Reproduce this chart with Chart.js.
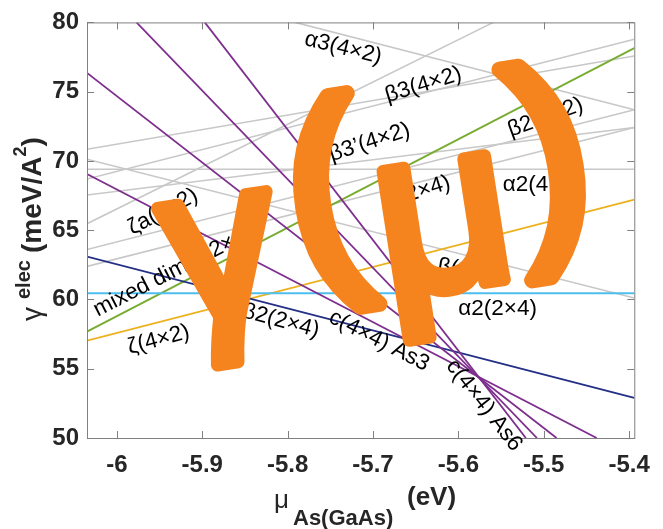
<!DOCTYPE html>
<html>
<head>
<meta charset="utf-8">
<script src="https://cdn.jsdelivr.net/npm/chart.js@4.4.1/dist/chart.umd.min.js"></script>
<style>
  body { margin: 0; background: #fff; }
</style>
</head>
<body>
<canvas id="myChart" width="663" height="529"></canvas>
<script>
// axis range and ticks
const xMin = -6.035, xMax = -5.394;
const yMin = 50, yMax = 80;
const xTicks = [-6, -5.9, -5.8, -5.7, -5.6, -5.5, -5.4];
const yTicks = [50, 55, 60, 65, 70, 75, 80];

// coloured surfaces: [mu, gamma] at both ends of each line
const mixedDimer = [[-6.035, 57.68], [-5.394, 78.14]];
const zeta42 = [[-6.035, 57.02], [-5.394, 67.2]];
const alpha2_24 = [[-6.035, 60.45], [-5.394, 60.45]];
const beta2_24 = [[-6.035, 63.1], [-5.394, 52.9]];
const c44a = [[-5.977, 80], [-5.508, 50]];
const c44b = [[-5.897, 80], [-5.521, 50]];
const c44c = [[-6.035, 76.35], [-5.485, 50]];
const c44d = [[-6.035, 69.05], [-5.438, 50]];

// the other reconstructions (grey)
const greyLines = [
  [[-6.035, 69.4], [-5.394, 69.4]],
  [[-5.791, 80], [-5.394, 73.7]],
  [[-6.035, 70.84], [-5.394, 77.57]],
  [[-6.035, 68.69], [-5.394, 78.78]],
  [[-6.035, 67.54], [-5.394, 72.41]],
  [[-6.035, 65.47], [-5.559, 80]],
  [[-6.035, 63.6], [-5.394, 73.7]],
  [[-6.035, 62.39], [-5.394, 72.41]],
  [[-6.035, 70.12], [-5.394, 60.1]],
];

// line labels
const labelText = ["α3(4×2)", "β3(4×2)", "β2(4×2)", "β3’(4×2)", "α2(4×2)", "α(2×4)", "β(2×4)",
  "α2(2×4)", "ζa(4×2)", "mixed dimer(2×4)", "ζ(4×2)", "β2(2×4)", "c(4×4) As3", "c(4×4) As6"];
const labelX = [-5.735, -5.641, -5.498, -5.704, -5.502, -5.647, -5.586, -5.554, -5.946, -5.934, -5.951, -5.808, -5.693, -5.570];
const labelY = [78.14, 75.49, 73.13, 71.34, 68.26, 67.76, 62.03, 59.31, 66.33, 62.03, 57.09, 58.45, 57.02, 52.36];
const labelAngle = [14, -17, -20, -18, 0, -17, 9, 0, -28, -27, -15, 15, 27, 52];

function seg(points, color, width) {
  return {
    data: points.map(p => ({ x: p[0], y: p[1] })),
    borderColor: color,
    borderWidth: width,
    showLine: true,
    pointRadius: 0,
    fill: false,
  };
}

let datasets = [
  seg(c44a, "#7e2f8e", 1.8),
  seg(c44b, "#7e2f8e", 1.8),
  seg(c44c, "#7e2f8e", 1.8),
  seg(c44d, "#7e2f8e", 1.8),
  seg(beta2_24, "#232f86", 1.8),
  seg(alpha2_24, "#4dbeee", 1.8),
  seg(zeta42, "#edb120", 1.8),
  seg(mixedDimer, "#77ac30", 1.8),
];
greyLines.forEach(l => datasets.push(seg(l, "#c8c8c8", 1.6)));

// box with inward ticks, matlab style
const frame = {
  id: "frame",
  afterDatasetsDraw(chart) {
    const { ctx, chartArea: a, scales } = chart;
    ctx.save();
    ctx.strokeStyle = "#808080";
    ctx.lineWidth = 1;
    ctx.strokeRect(a.left + 0.5, a.top + 0.5, a.right - a.left, a.bottom - a.top);
    ctx.beginPath();
    xTicks.forEach(v => {
      let px = Math.round(scales.x.getPixelForValue(v)) + 0.5;
      ctx.moveTo(px, a.bottom); ctx.lineTo(px, a.bottom - 7);
      ctx.moveTo(px, a.top); ctx.lineTo(px, a.top + 7);
    });
    yTicks.forEach(v => {
      let py = Math.round(scales.y.getPixelForValue(v)) + 0.5;
      ctx.moveTo(a.left, py); ctx.lineTo(a.left + 7, py);
      ctx.moveTo(a.right, py); ctx.lineTo(a.right - 7, py);
    });
    ctx.stroke();
    ctx.restore();
  }
};

const lineLabels = {
  id: "lineLabels",
  afterDatasetsDraw(chart) {
    const { ctx, scales } = chart;
    ctx.save();
    ctx.fillStyle = "#000";
    ctx.font = "22.5px 'Liberation Sans'";
    ctx.textAlign = "center";
    ctx.textBaseline = "middle";
    for (let i = 0; i < labelText.length; i++) {
      ctx.save();
      ctx.translate(scales.x.getPixelForValue(labelX[i]), scales.y.getPixelForValue(labelY[i]));
      ctx.rotate(labelAngle[i] * Math.PI / 180);
      ctx.fillText(labelText[i], 0, 0);
      ctx.restore();
    }
    ctx.restore();
  }
};

// big glyph, fitted to a box height; thick round stroke gives the marker look
function glyph(ctx, ch, cx, cy, h, ang, thick) {
  ctx.save();
  const fam = "'Liberation Sans'";
  ctx.font = "200px " + fam;
  let m = ctx.measureText(ch);
  let size = 200 * (h - thick) / (m.actualBoundingBoxAscent + m.actualBoundingBoxDescent);
  ctx.font = size + "px " + fam;
  m = ctx.measureText(ch);
  let mx = (m.actualBoundingBoxRight - m.actualBoundingBoxLeft) / 2;
  let my = (m.actualBoundingBoxDescent - m.actualBoundingBoxAscent) / 2;
  ctx.translate(cx, cy);
  ctx.rotate(ang * Math.PI / 180);
  ctx.lineJoin = "round";
  ctx.lineCap = "round";
  ctx.lineWidth = thick;
  ctx.strokeStyle = ctx.fillStyle;
  ctx.fillText(ch, -mx, -my);
  ctx.strokeText(ch, -mx, -my);
  ctx.restore();
}

const overlay = {
  id: "overlay",
  afterDraw(chart) {
    const ctx = chart.ctx;
    ctx.save();
    ctx.fillStyle = "#262626";
    ctx.textAlign = "left";
    ctx.textBaseline = "alphabetic";
    // x title
    ctx.font = "26px 'Liberation Sans'";
    ctx.fillText("μ", 274, 508);
    ctx.font = "bold 22px 'Liberation Sans'";
    ctx.fillText("As(GaAs)", 293, 525);
    ctx.font = "bold 26px 'Liberation Sans'";
    ctx.fillText("(eV)", 407, 505);
    // y title
    ctx.save();
    ctx.translate(41, 321);
    ctx.rotate(-Math.PI / 2);
    ctx.font = "28px 'Liberation Sans'";
    ctx.fillText("γ", 0, 0);
    ctx.font = "bold 20px 'Liberation Sans'";
    ctx.fillText("elec", 22, -11);
    ctx.font = "bold 28px 'Liberation Sans'";
    ctx.fillText("(meV/A", 68, 0);
    let w = ctx.measureText("(meV/A").width;
    ctx.font = "bold 18px 'Liberation Sans'";
    ctx.fillText("2", 68 + w, -15);
    let w2 = ctx.measureText("2").width;
    ctx.font = "bold 28px 'Liberation Sans'";
    ctx.fillText(")", 68 + w + w2, 0);
    ctx.restore();

    // big orange title
    ctx.fillStyle = "#f5841f";
    glyph(ctx, "γ", 224, 281, 178, -8.8, 13);
    glyph(ctx, "(", 333, 203, 230, -8.8, 16);
    glyph(ctx, "μ", 447, 248, 185, -8.8, 13);
    glyph(ctx, ")", 546, 170, 230, -8.8, 16);
    ctx.restore();
  }
};

const tickFont = { family: "'Liberation Sans'", size: 24, weight: "bold" };

new Chart(document.getElementById("myChart"), {
  type: "scatter",
  data: { datasets: datasets },
  options: {
    responsive: false,
    animation: false,
    devicePixelRatio: 1,
    layout: { padding: { top: 19, right: 18, left: 0, bottom: 0 } },
    plugins: { legend: { display: false }, tooltip: { enabled: false } },
    scales: {
      x: {
        type: "linear",
        min: xMin,
        max: xMax,
        afterBuildTicks: s => { s.ticks = xTicks.map(v => ({ value: v })); },
        afterFit: s => { s.height = 91; },
        grid: { display: false, drawTicks: false },
        border: { display: false },
        ticks: {
          font: tickFont, color: "#262626", padding: 13, maxRotation: 0, autoSkip: false,
          callback: v => String(Math.round(v * 10) / 10)
        }
      },
      y: {
        type: "linear",
        min: yMin,
        max: yMax,
        afterBuildTicks: s => { s.ticks = yTicks.map(v => ({ value: v })); },
        afterFit: s => { s.width = 87; },
        grid: { display: false, drawTicks: false },
        border: { display: false },
        ticks: { font: tickFont, color: "#262626", padding: 8, autoSkip: false }
      }
    }
  },
  plugins: [frame, lineLabels, overlay]
});
</script>
</body>
</html>
